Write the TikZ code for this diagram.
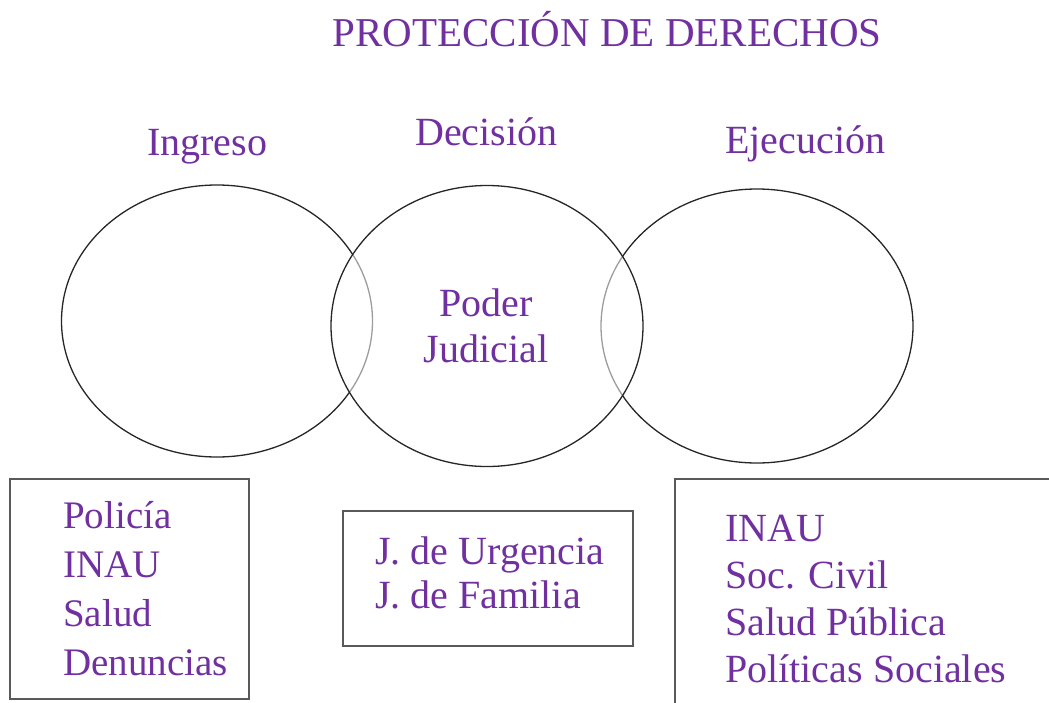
\documentclass[tikz,border=0pt]{standalone}
\usepackage{fontspec}
\setmainfont{Liberation Serif}
\usetikzlibrary{shapes.geometric}
\definecolor{purp}{RGB}{112,48,160}
\begin{document}
\begin{tikzpicture}[x=1pt,y=-1pt,
  lbl/.style={text=purp,inner sep=0pt,anchor=base west,align=left},
  ellbox/.style={ellipse,draw=black!85,line width=1.3pt,inner sep=0pt},
  rectbox/.style={draw=black!65,line width=1.8pt,inner sep=0pt,anchor=north west}]
\useasboundingbox (0,0) rectangle (1049,702);
\clip (0,0) rectangle (1049,702);
% ellipses
\node[ellbox,minimum width=311pt,minimum height=272pt] (ingE) at (217,321) {};
\node[ellbox,minimum width=312pt,minimum height=274pt] (ejeE) at (757,326) {};
\node[ellbox,fill=white,fill opacity=0.55,minimum width=312pt,minimum height=281pt] (decE) at (487,326) {};
% boxes
\node[rectbox,minimum width=239pt,minimum height=220pt] (ingB) at (9,478) {};
\node[rectbox,minimum width=290pt,minimum height=135pt] (decB) at (342,510) {};
\node[rectbox,minimum width=420pt,minimum height=260pt] (ejeB) at (674,478) {};
% title and headings
\node[lbl,anchor=base,font=\fontsize{41}{49}\selectfont] (title) at (607,46) {PROTECCIÓN DE DERECHOS};
\node[lbl,font=\fontsize{40}{49}\selectfont] (ing) at (147,155) {Ingreso};
\node[lbl,font=\fontsize{40}{49}\selectfont] (dec) at (415,145) {Decisión};
\node[lbl,font=\fontsize{40}{49}\selectfont] (eje) at (725,153) {Ejecución};
\node[lbl,align=center,anchor=base,font=\fontsize{40}{46}\selectfont] (pj) at (486,362) {Poder\\Judicial};
% box texts (anchored at the baseline of the last line)
\node[lbl,font=\fontsize{39}{49}\selectfont] (ingT) at (63,675) {Policía\\INAU\\Salud\\Denuncias};
\node[lbl,font=\fontsize{40}{44}\selectfont] (decT) at (375,608) {J. de Urgencia\\J. de Familia};
\node[lbl,font=\fontsize{40}{47}\selectfont] (ejeT) at (725,682) {INAU\\Soc. Civil\\Salud Pública\\Políticas Sociales};
\end{tikzpicture}
\end{document}
